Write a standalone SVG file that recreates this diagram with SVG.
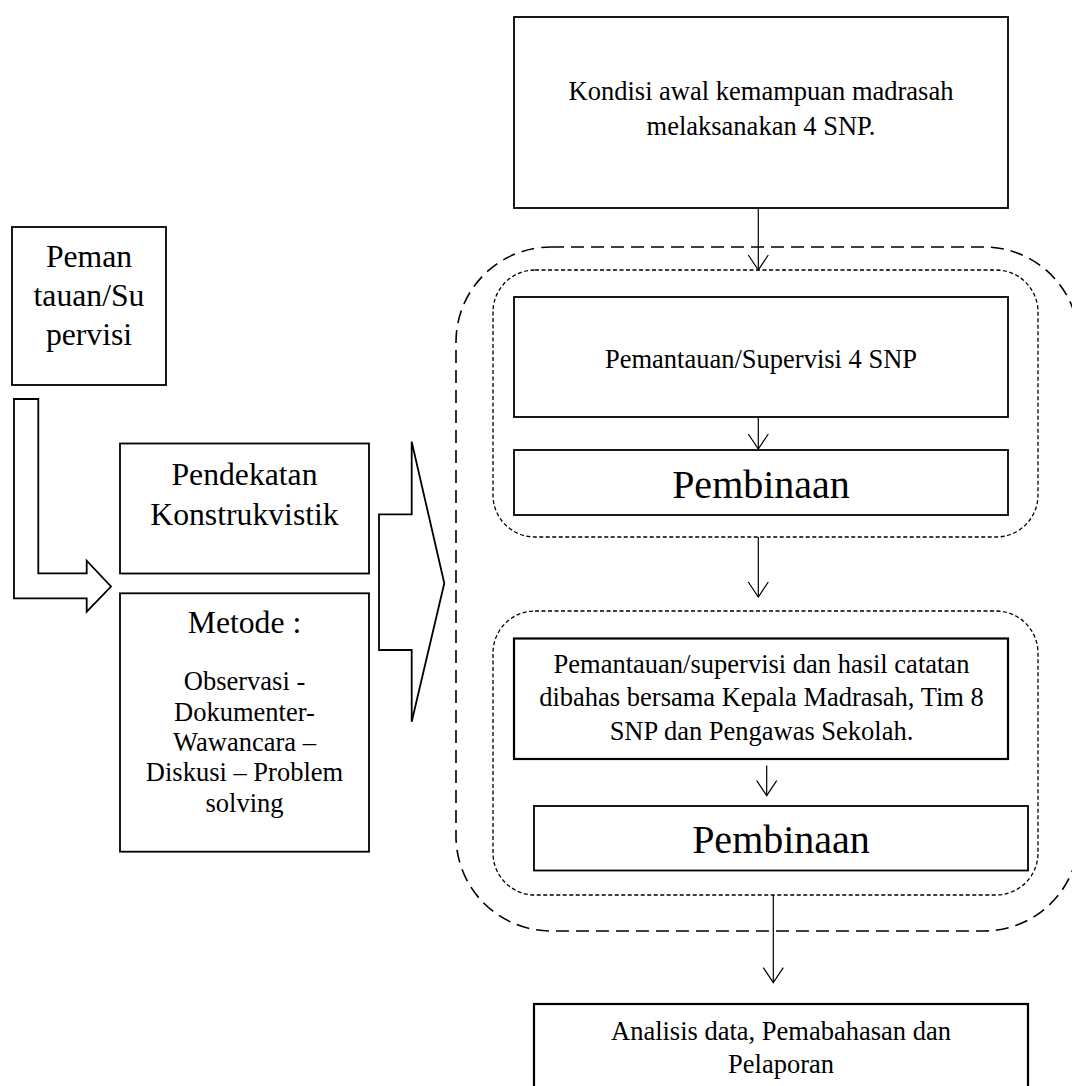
<svg xmlns="http://www.w3.org/2000/svg" width="1072" height="1086" viewBox="0 0 1072 1086">
<style>
  .box { fill: #ffffff; stroke: #000000; stroke-width: 1.8; }
  .box2 { fill: #ffffff; stroke: #000000; stroke-width: 2.2; }
  .shape { fill: #ffffff; stroke: #000000; stroke-width: 1.8; stroke-linejoin: miter; }
  .outer { fill: none; stroke: #000000; stroke-width: 1.6; stroke-dasharray: 13 7; }
  .inner { fill: none; stroke: #000000; stroke-width: 1.3; stroke-dasharray: 4 2.5; }
  .conn { fill: none; stroke: #000000; stroke-width: 1.2; }
  text { font-family: "Liberation Serif", "Times New Roman", serif; fill: #000000; text-anchor: middle; }
  .t { font-size: 26.5px; }
  .tl { font-size: 31.7px; }
  .tx { font-size: 40px; }
</style>
<defs>
  <marker id="vhead" viewBox="-16 -11 17 22" refX="0" refY="0" markerWidth="17" markerHeight="22" markerUnits="userSpaceOnUse" orient="auto">
    <path d="M-15,-10 L0,0 L-15,10" fill="none" stroke="#000000" stroke-width="1.2"/>
  </marker>
</defs>

<g id="group-outer">
  <rect class="outer" x="456" y="247" width="623" height="684" rx="95" ry="95"/>
</g>
<g id="group-inner-1">
  <rect class="inner" x="493" y="270" width="545" height="267" rx="42" ry="42"/>
</g>
<g id="group-inner-2">
  <rect class="inner" x="493" y="611" width="545" height="284" rx="42" ry="42"/>
</g>

<g id="node-pemantauan-left">
  <rect class="box" x="12" y="227" width="154" height="158"/>
  <text class="tl" x="89" y="267">Peman</text>
  <text class="tl" x="89" y="306">tauan/Su</text>
  <text class="tl" x="89" y="345">pervisi</text>
</g>

<g id="node-bent-arrow">
  <path class="shape" d="M14,399 L38.3,399 L38.3,573.3 L86.7,573.3 L86.7,560.7 L111,586.5 L86.7,611.7 L86.7,598.3 L14,598.3 Z"/>
</g>

<g id="node-pendekatan">
  <rect class="box" x="120" y="443.5" width="249" height="130"/>
  <text class="tl" x="244.5" y="484.5">Pendekatan</text>
  <text class="tl" x="244.5" y="525">Konstrukvistik</text>
</g>

<g id="node-metode">
  <rect class="box" x="120" y="593.3" width="249" height="258.4"/>
  <text class="tl" x="244.5" y="633">Metode :</text>
  <text class="t" x="244.5" y="689.5">Observasi -</text>
  <text class="t" x="244.5" y="720.5">Dokumenter-</text>
  <text class="t" x="244.5" y="751">Wawancara –</text>
  <text class="t" x="244.5" y="781">Diskusi – Problem</text>
  <text class="t" x="244.5" y="811.5">solving</text>
</g>

<g id="node-chevron">
  <path class="shape" d="M379,514.3 L411.7,514.3 L411.7,441.7 L444.3,583.3 L411.7,721.7 L411.7,650 L379,650 Z"/>
</g>

<g id="node-kondisi">
  <rect class="box" x="514" y="17" width="494" height="191"/>
  <text class="t" x="761" y="100">Kondisi awal kemampuan madrasah</text>
  <text class="t" x="761" y="135">melaksanakan 4 SNP.</text>
</g>

<g id="node-supervisi">
  <rect class="box" x="514" y="297" width="494" height="120"/>
  <text class="t" x="761" y="367.7">Pemantauan/Supervisi 4 SNP</text>
</g>

<g id="node-pembinaan-1">
  <rect class="box" x="514" y="450" width="494" height="65"/>
  <text class="tx" x="761" y="497.7">Pembinaan</text>
</g>

<g id="node-pembahasan">
  <rect class="box2" x="514" y="638.5" width="494" height="120.5"/>
  <text class="t" x="761.5" y="672.7">Pemantauan/supervisi dan hasil catatan</text>
  <text class="t" x="761.5" y="706.3">dibahas bersama Kepala Madrasah, Tim 8</text>
  <text class="t" x="761.5" y="740">SNP dan Pengawas Sekolah.</text>
</g>

<g id="node-pembinaan-2">
  <rect class="box" x="534" y="806" width="494" height="64.5"/>
  <text class="tx" x="781" y="853.3">Pembinaan</text>
</g>

<g id="node-analisis">
  <rect class="box2" x="534" y="1004" width="494" height="90"/>
  <text class="t" x="781" y="1040">Analisis data, Pemabahasan dan</text>
  <text class="t" x="781" y="1072.7">Pelaporan</text>
</g>

<g id="connectors">
  <line class="conn" x1="758.3" y1="208" x2="758.3" y2="270" marker-end="url(#vhead)"/>
  <line class="conn" x1="758.3" y1="417" x2="758.3" y2="449" marker-end="url(#vhead)"/>
  <line class="conn" x1="758.3" y1="537" x2="758.3" y2="597" marker-end="url(#vhead)"/>
  <line class="conn" x1="766.7" y1="765.5" x2="766.7" y2="795.7" marker-end="url(#vhead)"/>
  <line class="conn" x1="773.3" y1="895" x2="773.3" y2="982.7" marker-end="url(#vhead)"/>
</g>
</svg>
